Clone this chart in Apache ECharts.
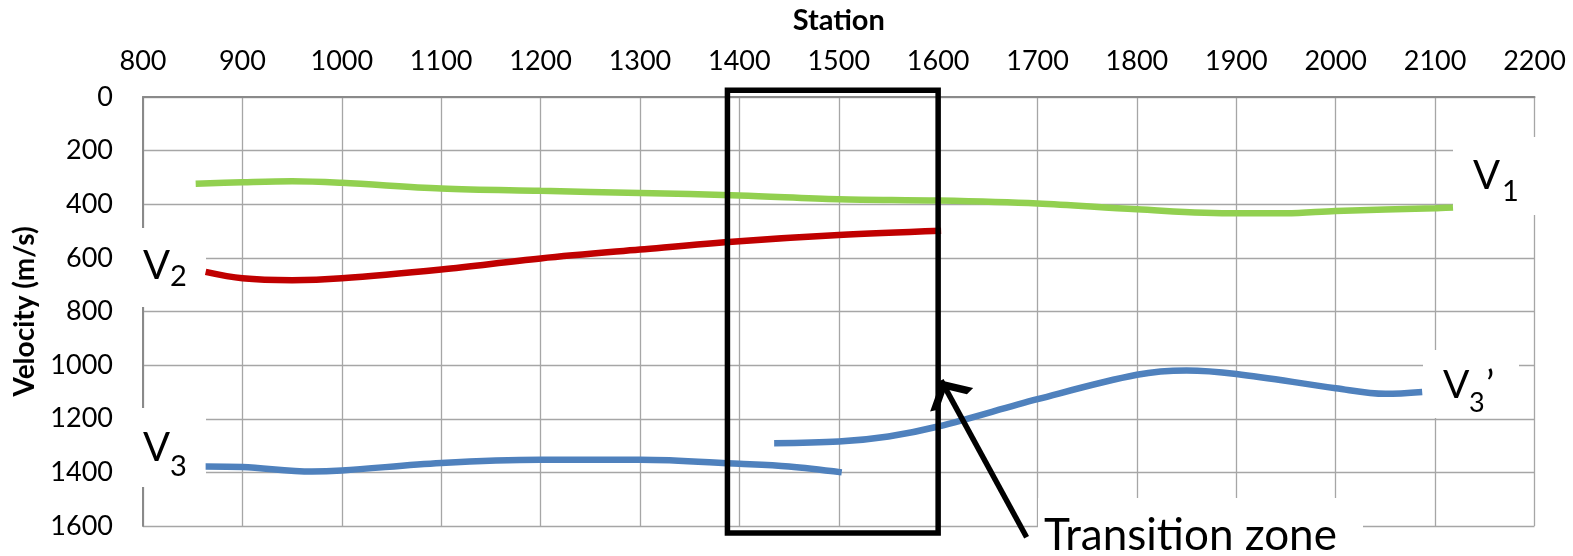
<!DOCTYPE html>
<html>
<head>
<meta charset="utf-8">
<script src="https://cdn.jsdelivr.net/npm/echarts@6/dist/echarts.min.js"></script>
<style>
html,body{margin:0;padding:0;background:#fff;}
#c{width:1573px;height:556px;}
</style>
</head>
<body>
<div id="c"></div>
<script>
// ---- data ----
var xTicks = [800, 2200, 100];   // min, max, interval (Station)
var yTicks = [0, 1600, 200];     // min, max, interval (Velocity)

var v1Station = [853, 900, 950, 1000, 1100, 1200, 1300, 1400, 1500, 1600, 1700, 1800, 1900, 1950, 2000, 2100, 2118];
var v1Velocity = [324, 318, 314, 320, 341, 350, 358, 367, 381, 386, 397, 419, 434, 434, 425, 415, 412];

var v2Station = [863, 900, 950, 1000, 1100, 1200, 1300, 1400, 1500, 1603];
var v2Velocity = [652, 676, 683, 676, 643, 602, 569, 538, 515, 499];

var v3Station = [863, 900, 970, 1000, 1100, 1200, 1300, 1400, 1450, 1503];
var v3Velocity = [1378, 1380, 1397, 1393, 1365, 1353, 1353, 1368, 1378, 1400];

var v3pStation = [1435, 1500, 1550, 1600, 1700, 1800, 1850, 1900, 2000, 2050, 2087];
var v3pVelocity = [1291, 1285, 1266, 1229, 1127, 1036, 1020, 1033, 1086, 1107, 1100];

var zoneStation = [1388, 1600, 1600, 1388, 1388];
var zoneVelocity = [-25, -25, 1626, 1626, -25];

var arrowFrom = [1689, 1642];
var arrowTo = [1603, 1057];

function pairs(xs, ys) { return xs.map(function (x, i) { return [x, ys[i]]; }); }

var FONT = 'Lato';
var chart = echarts.init(document.getElementById('c'));

function lineSeries(name, xs, ys, color) {
  return {
    name: name, type: 'line', data: pairs(xs, ys), smooth: 0.35, symbol: 'none',
    lineStyle: { color: color, width: 6.5 }, z: 3, silent: true
  };
}
function plain(v) { return String(v); }
function txt(x, y, s, size) {
  return { type: 'text', z: 10, silent: true, x: x, y: y,
    style: { text: s, fontFamily: FONT, fontSize: size, fill: '#000', verticalAlign: 'top', align: 'left' } };
}

var option = {
  animation: false,
  backgroundColor: '#ffffff',
  grid: { left: 143, right: 38.5, top: 97, bottom: 30, containLabel: false, outerBoundsMode: 'none' },
  xAxis: {
    type: 'value', position: 'top', min: xTicks[0], max: xTicks[1], interval: xTicks[2],
    name: 'Station', nameLocation: 'middle', nameGap: 62,
    nameTextStyle: { fontFamily: FONT, fontWeight: 'bold', fontSize: 29, color: '#000' },
    axisLine: { show: true, onZero: false, lineStyle: { color: '#8a8a8a', width: 2 } },
    axisTick: { show: false },
    axisLabel: { fontFamily: FONT, fontSize: 27, color: '#000', margin: 22, formatter: plain },
    splitLine: { show: true, lineStyle: { color: '#a6a6a6', width: 1.3 } }
  },
  yAxis: {
    type: 'value', inverse: true, min: yTicks[0], max: yTicks[1], interval: yTicks[2],
    name: 'Velocity (m/s)', nameLocation: 'middle', nameGap: 96,
    nameTextStyle: { fontFamily: FONT, fontWeight: 'bold', fontSize: 28, color: '#000' },
    axisLine: { show: true, onZero: false, lineStyle: { color: '#8a8a8a', width: 2 } },
    axisTick: { show: false },
    axisLabel: { fontFamily: FONT, fontSize: 27, color: '#000', margin: 30, formatter: plain },
    splitLine: { show: true, lineStyle: { color: '#a6a6a6', width: 1.3 } }
  },
  series: [
    lineSeries('V1', v1Station, v1Velocity, '#92D050'),
    lineSeries('V2', v2Station, v2Velocity, '#C00000'),
    lineSeries('V3', v3Station, v3Velocity, '#4F81BD'),
    lineSeries("V3'", v3pStation, v3pVelocity, '#4F81BD'),
    {
      name: 'Transition zone box', type: 'line', data: pairs(zoneStation, zoneVelocity),
      symbol: 'none', clip: false, silent: true, z: 4,
      lineStyle: { color: '#000', width: 5.5, cap: 'square', join: 'miter' }
    },
    {
      name: 'arrow', type: 'lines', coordinateSystem: 'cartesian2d', clip: false, silent: true, z: 5,
      symbol: ['none', 'path://M0,0 L13,22 L8.5,24.5 L0,10 L-8.5,24.5 L-13,22 Z M0,-24.5 L0.01,-24.5 L0,-24.49 Z'],
      symbolSize: [26, 49],
      lineStyle: { color: '#000', width: 5.5, opacity: 1, curveness: 0 },
      data: [{ coords: [arrowFrom, arrowTo] }]
    }
  ],
  graphic: [
    // white label backgrounds (covering gridlines)
    { type: 'rect', z: 1, silent: true, shape: { x: 1453, y: 137, width: 84, height: 78 }, style: { fill: '#fff' } },
    { type: 'rect', z: 1, silent: true, shape: { x: 136, y: 228, width: 70, height: 79 }, style: { fill: '#fff' } },
    { type: 'rect', z: 1, silent: true, shape: { x: 136, y: 408, width: 70, height: 79 }, style: { fill: '#fff' } },
    { type: 'rect', z: 1, silent: true, shape: { x: 1423, y: 350, width: 96, height: 68 }, style: { fill: '#fff' } },
    { type: 'rect', z: 1, silent: true, shape: { x: 1038, y: 498, width: 325, height: 60 }, style: { fill: '#fff' } },
    // labels
    txt(1473, 156, 'V', 40), txt(1502, 177, '1', 29),
    txt(143, 246, 'V', 40), txt(170, 262, '2', 29),
    txt(143, 428, 'V', 40), txt(170, 452, '3', 29),
    txt(1443, 366, 'V', 39), txt(1469, 390, '3', 27), txt(1486, 366, '\u2019', 39),
    { type: 'text', z: 10, silent: true, x: 1044, y: 514,
      style: { text: '{a|Transi}{a|tion zone}', verticalAlign: 'top', align: 'left',
        rich: { a: { fontFamily: FONT, fontSize: 44, fill: '#000', color: '#000' } } } }
  ]
};
chart.setOption(option);
</script>
</body>
</html>
